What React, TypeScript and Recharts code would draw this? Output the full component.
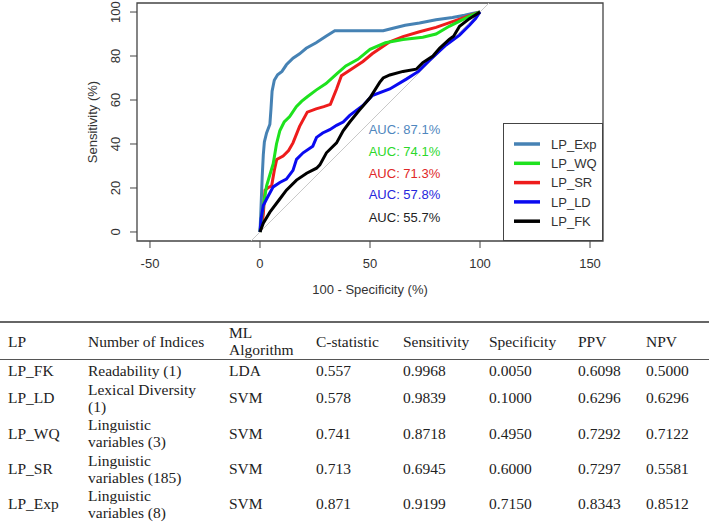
import React from 'react';
import { LineChart, Line, XAxis, YAxis, ReferenceLine, ReferenceArea, ReferenceDot, Legend } from 'recharts';

// ROC curves (100 - specificity, sensitivity), in %
const fprExp = [0, 0.5, 1, 1.5, 2, 3, 4.5, 5, 5.5, 6.5, 8, 10, 12, 15, 18, 21, 25.5, 30, 34, 56, 60, 66, 72.5, 80, 87.5, 93, 97, 100];
const tprExp = [0, 12, 25, 35, 41, 45, 49, 56, 64, 69, 71.5, 73, 76, 79, 81, 83.5, 86, 89, 91.5, 91.5, 92.5, 94, 95, 96.5, 97.5, 98.5, 99.5, 100];

const fprWQ = [0, 0.8, 2, 3, 4.5, 6, 7.5, 9, 11, 13.5, 16.5, 19, 21.5, 25.5, 30, 35, 39, 44.5, 50, 57, 65, 74, 80, 86, 91, 96, 100];
const tprWQ = [0, 7, 15, 21, 26, 31, 40, 46, 50, 52.5, 57, 59.5, 61.5, 64.5, 67.5, 72, 75.5, 78.5, 83, 86, 87.5, 88.5, 90, 93.5, 96, 98.5, 100];

const fprSR = [0, 1, 1.5, 2.3, 3.5, 5.3, 6.5, 7.6, 10.5, 13, 15, 18, 21.5, 25.5, 29, 32, 34.8, 37, 40.8, 46.8, 51, 59, 65, 72.5, 80, 87.5, 93, 98, 100];
const tprSR = [0, 4, 8, 19, 20, 21, 28, 33, 34.5, 37, 40.5, 48, 54.5, 56, 57, 58, 65, 71, 73.5, 77.5, 81, 86.5, 88.8, 91, 93, 95.6, 97.5, 99.4, 100];

const fprLD = [0, 0.5, 1.5, 3, 6, 9, 12, 15, 16.6, 19.6, 24, 25.7, 28.5, 31.7, 34.8, 37.8, 40.8, 46.8, 51, 59, 66.5, 72, 77, 84.6, 90.7, 95.2, 98, 100];
const tprLD = [0, 6, 12, 15, 20.5, 22.5, 24, 28, 33, 36, 39, 43, 45, 46.5, 48.5, 50, 53, 57.5, 62, 65, 69.5, 73, 78, 85, 89.5, 94, 97, 100];

const fprFK = [0, 1.5, 4.5, 9, 12, 16.6, 21.2, 25.7, 27.2, 30.2, 34.8, 37.8, 40.8, 45.3, 50, 54.4, 56, 59, 65, 71, 74, 78.6, 81.6, 86, 88, 90.7, 95.2, 100];
const tprFK = [0, 4, 9, 15, 19, 23.6, 26.7, 29, 30.5, 36, 40.5, 46, 50, 55.5, 61, 68, 70, 71.4, 73, 74, 77, 80, 83.5, 87.5, 89, 93.5, 97, 100];

const legendOrder = ['LP_Exp', 'LP_WQ', 'LP_SR', 'LP_LD', 'LP_FK'];
const aucLabels = ['AUC: 87.1%', 'AUC: 74.1%', 'AUC: 71.3%', 'AUC: 57.8%', 'AUC: 55.7%'];
const xTicks = [-50, 0, 50, 100, 150];
const yTicks = [0, 20, 40, 60, 80, 100];

// table
const tableHeader = ['LP', 'Number of Indices', 'ML\nAlgorithm', 'C-statistic', 'Sensitivity', 'Specificity', 'PPV', 'NPV'];
const lpNames = ['LP_FK', 'LP_LD', 'LP_WQ', 'LP_SR', 'LP_Exp'];
const indices = ['Readability (1)', 'Lexical Diversity\n(1)', 'Linguistic\nvariables (3)', 'Linguistic\nvariables (185)', 'Linguistic\nvariables (8)'];
const algorithms = ['LDA', 'SVM', 'SVM', 'SVM', 'SVM'];
const cStat = ['0.557', '0.578', '0.741', '0.713', '0.871'];
const sensitivity = ['0.9968', '0.9839', '0.8718', '0.6945', '0.9199'];
const specificity = ['0.0050', '0.1000', '0.4950', '0.6000', '0.7150'];
const ppv = ['0.6098', '0.6296', '0.7292', '0.7297', '0.8343'];
const npv = ['0.5000', '0.6296', '0.7122', '0.5581', '0.8512'];

const pts = (xs: number[], ys: number[]) => xs.map((x, i) => ({ x, y: ys[i] }));

const colors: Record<string, string> = {
  LP_Exp: '#4682B4',
  LP_WQ: '#1EE21E',
  LP_SR: '#EE1C1C',
  LP_LD: '#0A0AF0',
  LP_FK: '#000000',
};
const aucColors = ['#4F87BE', '#2BD82B', '#E02828', '#2626DC', '#222222'];
const aucY = [46.8, 36.8, 26.8, 17.3, 6.8];

const sans = '"Liberation Sans", Arial, sans-serif';
const serif = '"Liberation Serif", "Times New Roman", serif';
const axisColor = '#444';

const YTick = (props: any) => {
  const { y, payload } = props;
  const cx = 115;
  return (
    <text x={cx} y={y} dy="0.36em" textAnchor="middle" transform={`rotate(-90, ${cx}, ${y})`}
      fontSize={13} fill="#333" fontFamily={sans}>
      {payload.value}
    </text>
  );
};

const LegendBox = (props: any) => {
  const items = [...(props.payload || [])].sort(
    (a: any, b: any) => legendOrder.indexOf(a.value) - legendOrder.indexOf(b.value)
  );
  return (
    <div style={{ width: 100, height: 118, boxSizing: 'border-box', border: `1.3px solid ${axisColor}`, background: '#fff' }}>
      <svg width={98} height={116}>
        {items.map((it: any, i: number) => (
          <g key={it.value}>
            <line x1={10} x2={36} y1={20 + i * 19.3} y2={20 + i * 19.3} stroke={it.color} strokeWidth={3.5} />
            <text x={47} y={20 + i * 19.3} dy="0.36em" fontSize={13} fill="#333" fontFamily={sans}>{it.value}</text>
          </g>
        ))}
      </svg>
    </div>
  );
};

const colWidths = [88, 141, 87, 87, 86, 89, 68, 63];
const rowHeights = [20, 35, 36, 35, 35];

const Row = ({ cells, height, border }: { cells: string[]; height: number; border?: boolean }) => (
  <div style={{ display: 'flex', alignItems: 'center', height, borderBottom: border ? '1.5px solid #555' : undefined }}>
    {cells.map((c, i) => (
      <div key={i} style={{ width: colWidths[i], paddingLeft: i === 0 ? 8 : 0, boxSizing: 'border-box', whiteSpace: 'pre-line', lineHeight: '17px' }}>
        {c}
      </div>
    ))}
  </div>
);

export default function App() {
  const series = [
    { name: 'LP_Exp', data: pts(fprExp, tprExp) },
    { name: 'LP_SR', data: pts(fprSR, tprSR) },
    { name: 'LP_WQ', data: pts(fprWQ, tprWQ) },
    { name: 'LP_LD', data: pts(fprLD, tprLD) },
    { name: 'LP_FK', data: pts(fprFK, tprFK) },
  ];

  return (
    <div style={{ width: 709, height: 522, background: '#fff', overflow: 'hidden' }}>
      <style>{'body{margin:0}'}</style>
      <LineChart width={709} height={321} margin={{ top: 3, right: 106, left: 97, bottom: 0 }}>
        <XAxis type="number" dataKey="x" domain={[-55.9, 155.9]} ticks={xTicks} allowDataOverflow
          axisLine={false} tickLine={{ stroke: axisColor }} tickSize={7} tickMargin={11} height={80}
          tick={{ fontSize: 13, fill: '#333', fontFamily: sans }}
          label={{
            content: (p: any) => {
              const vb = p.viewBox;
              return (
                <text x={vb.x + vb.width / 2} y={vb.y + 48} dy="0.36em" textAnchor="middle" fontSize={13} fill="#333" fontFamily={sans}>
                  100 - Specificity (%)
                </text>
              );
            },
          }} />
        <YAxis type="number" dataKey="y" domain={[-4.1, 104.1]} ticks={yTicks} allowDataOverflow
          axisLine={false} tickLine={{ stroke: axisColor }} tickSize={7} width={40} tick={<YTick />}
          label={{
            content: (p: any) => {
              const vb = p.viewBox;
              const cy = vb.y + vb.height / 2;
              return (
                <text x={92} y={cy} dy="0.36em" textAnchor="middle" transform={`rotate(-90, 92, ${cy})`} fontSize={13} fill="#333" fontFamily={sans}>
                  Sensitivity (%)
                </text>
              );
            },
          }} />
        <ReferenceArea x1={-55.9} x2={155.9} y1={-4.1} y2={104.1} fill="none" stroke={axisColor} strokeWidth={1.3} ifOverflow="visible" />
        <ReferenceLine segment={[{ x: -4.1, y: -4.1 }, { x: 104.1, y: 104.1 }]} stroke="#c8c8c8" strokeWidth={1} />
        {series.map((s) => (
          <Line key={s.name} data={s.data} dataKey="y" name={s.name} type="linear" stroke={colors[s.name]}
            strokeWidth={3} dot={false} isAnimationActive={false} />
        ))}
        {aucLabels.map((t, i) => (
          <ReferenceDot key={t} x={49.4} y={aucY[i]} r={0.01} fill="none" stroke="none"
            label={{ value: t, position: 'right', offset: 0, fill: aucColors[i], fontSize: 13, fontFamily: sans }} />
        ))}
        <Legend layout="vertical" align="center" verticalAlign="middle" content={<LegendBox />}
          wrapperStyle={{ left: 503, top: 123, width: 100, height: 118 }} />
      </LineChart>
      <div style={{ fontFamily: serif, fontSize: 15.5, color: '#222', borderTop: '2px solid #666' }}>
        <Row cells={tableHeader} height={36} border />
        {lpNames.map((lp, i) => (
          <Row key={lp} height={rowHeights[i]}
            cells={[lp, indices[i], algorithms[i], cStat[i], sensitivity[i], specificity[i], ppv[i], npv[i]]} />
        ))}
      </div>
    </div>
  );
}
